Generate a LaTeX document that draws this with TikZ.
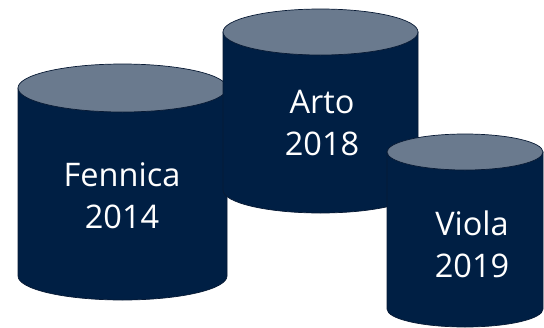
\documentclass[tikz,border=0pt]{standalone}
\usepackage{fontspec}
\setmainfont{Open Sans}
\usetikzlibrary{positioning}
\definecolor{drumnavy}{RGB}{0,31,68}
\definecolor{drumline}{RGB}{8,26,52}
\definecolor{drumlid}{RGB}{106,122,142}
\tikzset{drumbody/.style={fill=drumnavy, draw=drumline, line width=0.7pt}}
\tikzset{drumtop/.style={fill=drumlid, draw=drumline, line width=0.7pt}}
\tikzset{drumtext/.style={text=white, align=center, font=\fontsize{32.5}{42}\selectfont}}
% cx, rx, top y, bottom y, ry (pixels, y downwards)
\newcommand{\drum}[5]{%
	\filldraw[drumbody] ({#1-#2},{-#3}) -- ({#1-#2},{-#4}) arc[start angle=180, end angle=360, x radius=#2, y radius=#5] -- ({#1+#2},{-#3}) -- cycle;
	\filldraw[drumtop] (#1,{-#3}) ellipse[x radius=#2, y radius=#5];
}

\begin{document}
\begin{tikzpicture}[x=1pt, y=1pt]
	\useasboundingbox (0,0) rectangle (544,-327);
	
	\drum{122.5}{104.5}{88}{276}{24}
	\drum{320.5}{97.5}{32}{190}{23}
	\drum{465}{78}{152}{309}{18}
	
	\node[drumtext] (fennica) at (122,-196) {Fennica\\2014};
	\node[drumtext] (arto) at (322,-123) {Arto\\2018};
	\node[drumtext] (viola) at (472,-244) {Viola\\2019};
	
\end{tikzpicture}
\end{document}
